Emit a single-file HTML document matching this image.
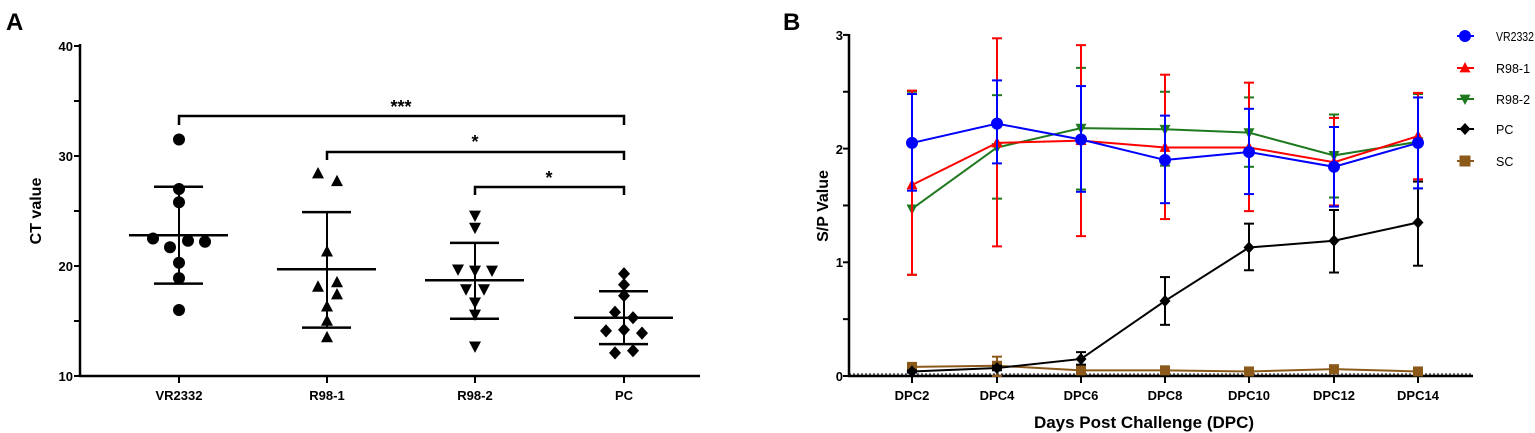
<!DOCTYPE html>
<html><head><meta charset="utf-8">
<style>
html,body{margin:0;padding:0;background:#fff;}
svg{display:block;font-family:"Liberation Sans",Arial,sans-serif;}
</style></head>
<body>
<svg id="s" width="1535" height="433" viewBox="0 0 1535 433" xmlns="http://www.w3.org/2000/svg">
<g id="g"></g>
<text x="6" y="30" font-size="24" font-weight="bold">A</text>
<g font-size="13" font-weight="bold" text-anchor="end">
<text x="73" y="51">40</text>
<text x="73" y="161">30</text>
<text x="73" y="271">20</text>
<text x="73" y="381">10</text>
</g>
<text transform="translate(41,211) rotate(-90)" font-size="16" font-weight="bold" text-anchor="middle">CT value</text>
<g font-size="13" font-weight="bold" text-anchor="middle">
<text x="179" y="400">VR2332</text>
<text x="327" y="400">R98-1</text>
<text x="475" y="400">R98-2</text>
<text x="624" y="400">PC</text>
</g>
<g font-size="18" font-weight="bold" text-anchor="middle">
<text x="401" y="113">***</text>
<text x="475" y="148">*</text>
<text x="549" y="184">*</text>
</g>
<text x="783" y="30" font-size="24" font-weight="bold">B</text>
<g font-size="13" font-weight="bold" text-anchor="end">
<text x="843" y="40">3</text>
<text x="843" y="154">2</text>
<text x="843" y="267">1</text>
<text x="843" y="381">0</text>
</g>
<text transform="translate(828,206) rotate(-90)" font-size="16" font-weight="bold" text-anchor="middle">S/P Value</text>
<g font-size="13" font-weight="bold" text-anchor="middle">
<text x="912" y="400">DPC2</text>
<text x="997" y="400">DPC4</text>
<text x="1081" y="400">DPC6</text>
<text x="1165" y="400">DPC8</text>
<text x="1249" y="400">DPC10</text>
<text x="1334" y="400">DPC12</text>
<text x="1418" y="400">DPC14</text>
</g>
<text x="1144" y="428" font-size="17" font-weight="bold" text-anchor="middle">Days Post Challenge (DPC)</text>
<g font-size="12.5">
<text x="1496" y="41" textLength="38" lengthAdjust="spacingAndGlyphs">VR2332</text>
<text x="1496" y="73">R98-1</text>
<text x="1496" y="104">R98-2</text>
<text x="1496" y="134">PC</text>
<text x="1496" y="166">SC</text>
</g>
</svg>
<script>
const g=document.getElementById('g');const NS='http://www.w3.org/2000/svg';
function el(t,a){const e=document.createElementNS(NS,t);for(const k in a)e.setAttribute(k,a[k]);g.appendChild(e);return e;}
function line(x1,y1,x2,y2,c,w,extra){const o={x1,y1,x2,y2,stroke:c,'stroke-width':w};Object.assign(o,extra||{});el('line',o);}
function marker(type,x,y,c,r){
 if(type=='circle')el('circle',{cx:x,cy:y,r:r,fill:c});
 else if(type=='up')el('polygon',{points:`${x},${y-r*1.1} ${x-r},${y+r*0.8} ${x+r},${y+r*0.8}`,fill:c});
 else if(type=='down')el('polygon',{points:`${x},${y+r*1.1} ${x-r},${y-r*0.8} ${x+r},${y-r*0.8}`,fill:c});
 else if(type=='diamond')el('polygon',{points:`${x},${y-r*1.1} ${x+r},${y} ${x},${y+r*1.1} ${x-r},${y}`,fill:c});
 else if(type=='square')el('rect',{x:x-r,y:y-r,width:2*r,height:2*r,fill:c});
}
const yA=v=>376-(v-10)*11;
line(80,44,80,377,'#000',2.5);line(79,376,700,376,'#000',2.5);
[40,35,30,25,20,15,10].forEach(v=>line(74,yA(v),80,yA(v),'#000',2));
[179,327,475,624].forEach(x=>line(x,376,x,383,'#000',2));
const A=[
 {x:179,t:'circle',m:22.8,hi:27.2,lo:18.4,pts:[[0,31.5],[0,27],[0,25.8],[-26,22.5],[-9,21.7],[9,22.3],[26,22.2],[0,20.3],[0,18.9],[0,16]]},
 {x:327,t:'up',m:19.7,hi:24.9,lo:14.4,pts:[[-9,28.4],[10,27.7],[0,21.3],[-9,18.1],[10,18.5],[10,17.4],[0,16.3],[0,15],[0,13.5]]},
 {x:475,t:'down',m:18.7,hi:22.1,lo:15.2,pts:[[0,24.6],[0,23.5],[-17,19.7],[0,19.6],[17,19.6],[-9,17.9],[9,17.9],[0,16.7],[0,15.6],[0,12.7]]},
 {x:624,t:'diamond',m:15.3,hi:17.7,lo:12.9,pts:[[0,19.3],[0,18.3],[0,17.3],[-9,15.8],[9,15.3],[-18,14.1],[0,14.2],[18,13.9],[-9,12.1],[9,12.3]]}];
A.forEach(d=>{
 d.pts.forEach(p=>marker(d.t,d.x+p[0],yA(p[1]),'#000',6));
 line(d.x-50,yA(d.m),d.x+49,yA(d.m),'#000',2.5);
 line(d.x,yA(d.hi),d.x,yA(d.lo),'#000',2);
 line(d.x-25,yA(d.hi),d.x+24,yA(d.hi),'#000',2.5);
 line(d.x-25,yA(d.lo),d.x+24,yA(d.lo),'#000',2.5);
});
[[179,116,125],[327,152,160],[475,187,195]].forEach(b=>{
 el('polyline',{points:`${b[0]},${b[2]} ${b[0]},${b[1]} 624,${b[1]} 624,${b[2]}`,fill:'none',stroke:'#000','stroke-width':2.5});
});
const yB=v=>376-v*113.7;const X=[912,997,1081,1165,1249,1334,1418];
line(849,34,849,377,'#000',2.5);line(848,376,1473,376,'#000',2.5);
line(849,374,1473,374,'#000',1,{'stroke-dasharray':'2,2'});
for(let v=0;v<=3;v+=0.5)line(843,yB(v),849,yB(v),'#000',2);
X.forEach(x=>line(x,376,x,383,'#000',2));
const B=[
 {c:'#8B5A1B',t:'square',v:[.08,.09,.05,.05,.04,.06,.04],hi:[.1,.17,.07,.07,.06,.08,.06],lo:[.06,0,.03,.03,.02,.04,.02]},
 {c:'#000',t:'diamond',v:[.04,.07,.15,.66,1.13,1.19,1.35],hi:[.05,.09,.21,.87,1.34,1.46,1.71],lo:[.03,.05,.1,.45,.93,.91,.97]},
 {c:'#1f7a1f',t:'down',v:[1.47,2.01,2.18,2.17,2.14,1.94,2.06],hi:[2.5,2.47,2.71,2.5,2.45,2.3,2.48],lo:[.89,1.56,1.64,1.85,1.84,1.57,1.65]},
 {c:'#ff0000',t:'up',v:[1.68,2.05,2.07,2.01,2.01,1.88,2.11],hi:[2.51,2.97,2.91,2.65,2.58,2.27,2.49],lo:[.89,1.14,1.23,1.38,1.45,1.5,1.73]},
 {c:'#0000ff',t:'circle',v:[2.05,2.22,2.08,1.9,1.97,1.84,2.05],hi:[2.48,2.6,2.55,2.29,2.35,2.19,2.45],lo:[1.63,1.87,1.62,1.52,1.6,1.49,1.65]}];
B.forEach(s=>{
 X.forEach((x,i)=>{line(x,yB(s.hi[i]),x,yB(s.lo[i]),s.c,2);line(x-5,yB(s.hi[i]),x+5,yB(s.hi[i]),s.c,2);line(x-5,yB(s.lo[i]),x+5,yB(s.lo[i]),s.c,2);});
 el('polyline',{points:X.map((x,i)=>x+','+yB(s.v[i])).join(' '),fill:'none',stroke:s.c,'stroke-width':2});
 X.forEach((x,i)=>marker(s.t,x,yB(s.v[i]),s.c,s.t=='circle'?6:(s.t=='square'?5:5.5)));
});
const L=[['#0000ff','circle',36],['#ff0000','up',68],['#1f7a1f','down',99],['#000','diamond',129],['#8B5A1B','square',161]];
L.forEach(l=>{line(1457,l[2],1474,l[2],l[0],2);marker(l[1],1465,l[2],l[0],l[1]=='circle'?6:5.5);});
</script>
</body></html>
